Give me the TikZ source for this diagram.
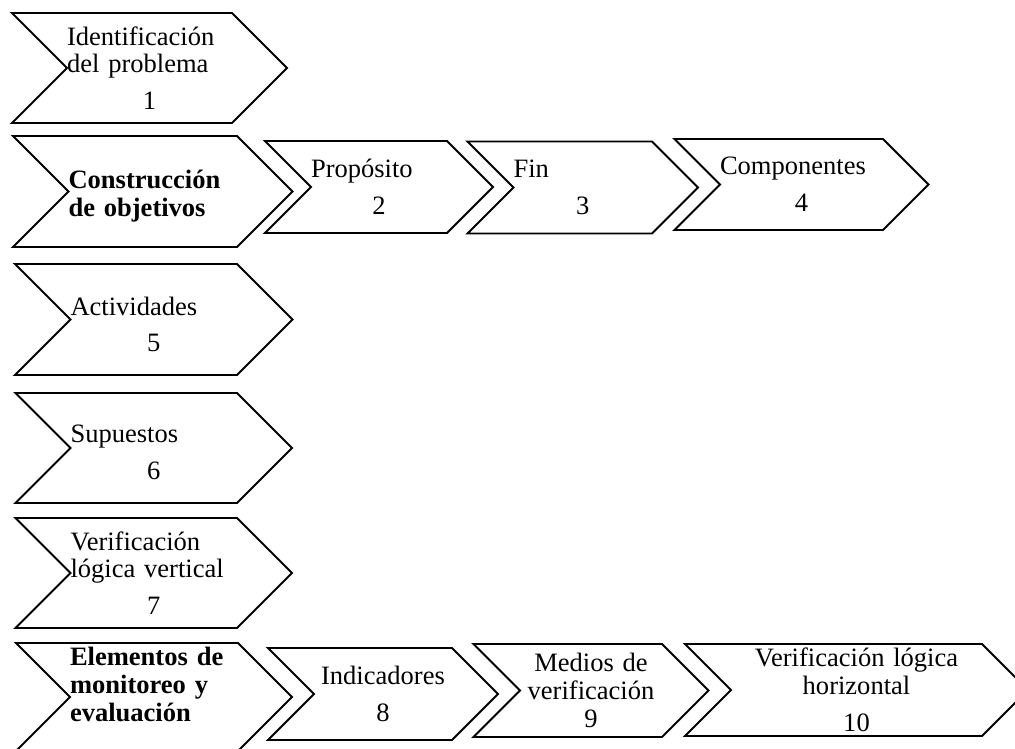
\documentclass[tikz,border=0pt]{standalone}
\usepackage{fontspec}
\setmainfont{Liberation Serif}
\usepackage{tikz}
\usetikzlibrary{shapes.symbols}

\newcommand{\stepnum}[1]{\par\vspace{5pt}{\centering #1\par}}

\begin{document}
\begin{tikzpicture}[x=0.02cm, y=-0.02cm,
		chevron node/.style={signal, signal from=west, signal to=east, draw, line width=1.1pt,
			inner xsep=0pt, inner ysep=0pt, align=left,
			font=\fontsize{15.1}{15.9}\selectfont}]
	\clip (0,0) rectangle (1015,749);
	
	% first column
	\node[chevron node, text width=3.3cm, minimum height=2.2cm] (1) at (149.5,68) {Identificación\\del problema\stepnum{1}};
	\node[chevron node, text width=3.37cm, minimum height=2.22cm] (2) at (152.75,191.5) {\rule{0pt}{15.6pt}\textbf{Construcción}\\\textbf{de objetivos}};
	\node[chevron node, text width=3.33cm, minimum height=2.22cm] (6) at (153.75,319.5) {\rule{0pt}{16pt}Actividades\stepnum{5}};
	\node[chevron node, text width=3.33cm, minimum height=2.2cm] (7) at (153.75,448) {\rule{0pt}{15pt}Supuestos\stepnum{6}};
	\node[chevron node, text width=3.33cm, minimum height=2.2cm] (8) at (153.75,573) {Verificación\\lógica vertical\stepnum{7}};
	\node[chevron node, text width=3.36cm, minimum height=2.16cm] (9) at (154,697) {\textbf{Elementos de}\\\textbf{monitoreo y}\\\textbf{evaluación}\rule[-14.5pt]{0pt}{14.5pt}};
	
	% second row
	\node[chevron node, text width=2.72cm, minimum height=1.84cm] (3) at (379,187) {Propósito\stepnum{2}};
	\node[chevron node, text width=2.77cm, minimum height=1.84cm] (4) at (582.75,187.5) {Fin\stepnum{3}};
	\node[chevron node, text width=3.26cm, minimum height=1.82cm] (5) at (801.5,184.5) {Componentes\stepnum{4}};
	
	% last row
	\node[chevron node, align=center, text width=2.76cm, minimum height=1.84cm] (10) at (383,694) {Indicadores\stepnum{8}};
	\node[chevron node, align=center, text width=2.84cm, minimum height=1.86cm] (11) at (591,690.5) {Medios de\\verificación\\9};
	\node[chevron node, align=center, text width=5.02cm, minimum height=1.84cm] (12) at (856.5,690) {Verificación lógica\\horizontal\stepnum{10}};
\end{tikzpicture}
\end{document}
